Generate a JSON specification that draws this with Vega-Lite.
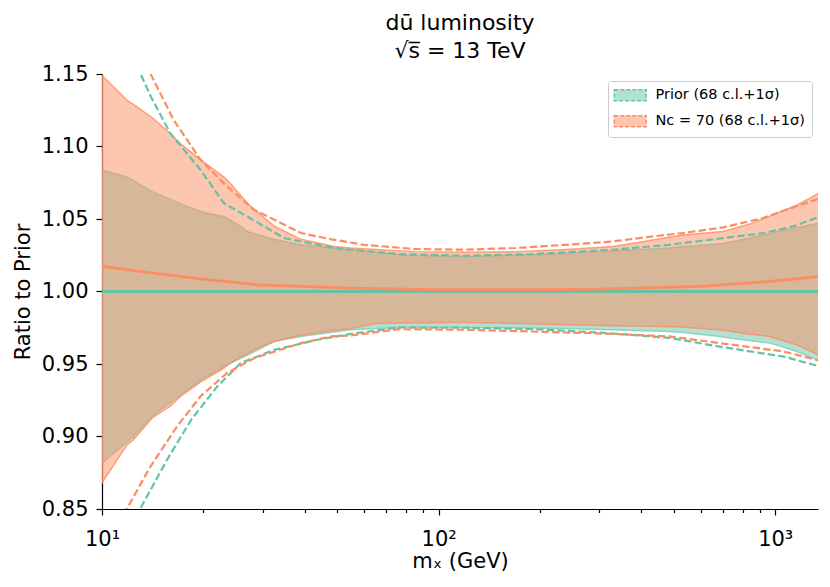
{
  "$schema": "https://vega.github.io/schema/vega-lite/v6.json",
  "width": 716,
  "height": 435,
  "autosize": {"type": "none"},
  "padding": {"left": 102, "top": 74, "right": 12, "bottom": 78},
  "background": "white",
  "title": {
    "text": ["d\u016b luminosity", "\u221as\u0305 = 13 TeV"],
    "font": "DejaVu Sans",
    "fontSize": 22,
    "fontWeight": "normal",
    "color": "black",
    "anchor": "middle",
    "lineHeight": 28,
    "offset": 0
  },
  "config": {
    "view": {"stroke": null},
    "axis": {
      "domainColor": "black",
      "domainWidth": 1.2,
      "tickColor": "black",
      "tickWidth": 1.2,
      "tickSize": 6,
      "labelColor": "black",
      "titleColor": "black",
      "labelFont": "DejaVu Sans",
      "titleFont": "DejaVu Sans",
      "labelFontSize": 21,
      "titleFontSize": 21,
      "titleFontWeight": "normal",
      "grid": false,
      "labelPadding": 5,
      "zindex": 1
    },
    "legend": {
      "title": null,
      "orient": "none",
      "legendX": 506,
      "legendY": 7,
      "symbolType": "M-2.9,-1H2.9V1H-2.9Z",
      "symbolSize": 121,
      "symbolStrokeWidth": 1.5,
      "symbolDash": [4, 2],
      "symbolOffset": 8,
      "labelFont": "DejaVu Sans",
      "labelFontSize": 14.5,
      "labelColor": "black",
      "labelOffset": 18,
      "padding": 7,
      "rowPadding": 8,
      "strokeColor": "#cccccc",
      "fillColor": "white",
      "cornerRadius": 3,
      "zindex": 2
    }
  },
  "datasets": {
    "bands": [
      {"set": "Prior (68 c.l.+1\u03c3)", "x": 10, "lo": 0.8816, "hi": 1.084},
      {"set": "Prior (68 c.l.+1\u03c3)", "x": 11.85, "lo": 0.896, "hi": 1.079},
      {"set": "Prior (68 c.l.+1\u03c3)", "x": 12.4, "lo": 0.9, "hi": 1.0765},
      {"set": "Prior (68 c.l.+1\u03c3)", "x": 14.07, "lo": 0.9138, "hi": 1.069},
      {"set": "Prior (68 c.l.+1\u03c3)", "x": 17.9, "lo": 0.932, "hi": 1.0587},
      {"set": "Prior (68 c.l.+1\u03c3)", "x": 20.1, "lo": 0.9402, "hi": 1.0545},
      {"set": "Prior (68 c.l.+1\u03c3)", "x": 23, "lo": 0.948, "hi": 1.0517},
      {"set": "Prior (68 c.l.+1\u03c3)", "x": 25.9, "lo": 0.954, "hi": 1.045},
      {"set": "Prior (68 c.l.+1\u03c3)", "x": 27, "lo": 0.956, "hi": 1.0414},
      {"set": "Prior (68 c.l.+1\u03c3)", "x": 32.5, "lo": 0.9655, "hi": 1.036},
      {"set": "Prior (68 c.l.+1\u03c3)", "x": 39, "lo": 0.969, "hi": 1.0322},
      {"set": "Prior (68 c.l.+1\u03c3)", "x": 55, "lo": 0.9736, "hi": 1.0288},
      {"set": "Prior (68 c.l.+1\u03c3)", "x": 80, "lo": 0.9754, "hi": 1.025},
      {"set": "Prior (68 c.l.+1\u03c3)", "x": 120, "lo": 0.9752, "hi": 1.0242},
      {"set": "Prior (68 c.l.+1\u03c3)", "x": 200, "lo": 0.9747, "hi": 1.0255},
      {"set": "Prior (68 c.l.+1\u03c3)", "x": 300, "lo": 0.9738, "hi": 1.0276},
      {"set": "Prior (68 c.l.+1\u03c3)", "x": 485, "lo": 0.9724, "hi": 1.03},
      {"set": "Prior (68 c.l.+1\u03c3)", "x": 531, "lo": 0.9718, "hi": 1.031},
      {"set": "Prior (68 c.l.+1\u03c3)", "x": 684, "lo": 0.969, "hi": 1.033},
      {"set": "Prior (68 c.l.+1\u03c3)", "x": 750, "lo": 0.9675, "hi": 1.0345},
      {"set": "Prior (68 c.l.+1\u03c3)", "x": 964, "lo": 0.9644, "hi": 1.04},
      {"set": "Prior (68 c.l.+1\u03c3)", "x": 1009, "lo": 0.963, "hi": 1.0414},
      {"set": "Prior (68 c.l.+1\u03c3)", "x": 1158, "lo": 0.9586, "hi": 1.044},
      {"set": "Prior (68 c.l.+1\u03c3)", "x": 1370, "lo": 0.9517, "hi": 1.0475},
      {"set": "Nc = 70 (68 c.l.+1\u03c3)", "x": 10, "lo": 0.868, "hi": 1.149},
      {"set": "Nc = 70 (68 c.l.+1\u03c3)", "x": 11.85, "lo": 0.894, "hi": 1.132},
      {"set": "Nc = 70 (68 c.l.+1\u03c3)", "x": 12.4, "lo": 0.8977, "hi": 1.129},
      {"set": "Nc = 70 (68 c.l.+1\u03c3)", "x": 14.07, "lo": 0.9126, "hi": 1.12},
      {"set": "Nc = 70 (68 c.l.+1\u03c3)", "x": 15.96, "lo": 0.921, "hi": 1.109},
      {"set": "Nc = 70 (68 c.l.+1\u03c3)", "x": 17.1, "lo": 0.9276, "hi": 1.102},
      {"set": "Nc = 70 (68 c.l.+1\u03c3)", "x": 19.6, "lo": 0.9375, "hi": 1.091},
      {"set": "Nc = 70 (68 c.l.+1\u03c3)", "x": 20.1, "lo": 0.939, "hi": 1.089},
      {"set": "Nc = 70 (68 c.l.+1\u03c3)", "x": 23, "lo": 0.947, "hi": 1.079},
      {"set": "Nc = 70 (68 c.l.+1\u03c3)", "x": 24.1, "lo": 0.951, "hi": 1.0745},
      {"set": "Nc = 70 (68 c.l.+1\u03c3)", "x": 27, "lo": 0.957, "hi": 1.061},
      {"set": "Nc = 70 (68 c.l.+1\u03c3)", "x": 29.6, "lo": 0.962, "hi": 1.053},
      {"set": "Nc = 70 (68 c.l.+1\u03c3)", "x": 32.5, "lo": 0.9655, "hi": 1.045},
      {"set": "Nc = 70 (68 c.l.+1\u03c3)", "x": 39, "lo": 0.97, "hi": 1.036},
      {"set": "Nc = 70 (68 c.l.+1\u03c3)", "x": 49, "lo": 0.9732, "hi": 1.031},
      {"set": "Nc = 70 (68 c.l.+1\u03c3)", "x": 55, "lo": 0.9745, "hi": 1.03},
      {"set": "Nc = 70 (68 c.l.+1\u03c3)", "x": 65, "lo": 0.978, "hi": 1.029},
      {"set": "Nc = 70 (68 c.l.+1\u03c3)", "x": 85, "lo": 0.9785, "hi": 1.0275},
      {"set": "Nc = 70 (68 c.l.+1\u03c3)", "x": 120, "lo": 0.9786, "hi": 1.027},
      {"set": "Nc = 70 (68 c.l.+1\u03c3)", "x": 170, "lo": 0.978, "hi": 1.0275},
      {"set": "Nc = 70 (68 c.l.+1\u03c3)", "x": 240, "lo": 0.977, "hi": 1.029},
      {"set": "Nc = 70 (68 c.l.+1\u03c3)", "x": 330, "lo": 0.9763, "hi": 1.031},
      {"set": "Nc = 70 (68 c.l.+1\u03c3)", "x": 420, "lo": 0.976, "hi": 1.035},
      {"set": "Nc = 70 (68 c.l.+1\u03c3)", "x": 531, "lo": 0.9755, "hi": 1.039},
      {"set": "Nc = 70 (68 c.l.+1\u03c3)", "x": 700, "lo": 0.9733, "hi": 1.0414},
      {"set": "Nc = 70 (68 c.l.+1\u03c3)", "x": 840, "lo": 0.9705, "hi": 1.0465},
      {"set": "Nc = 70 (68 c.l.+1\u03c3)", "x": 964, "lo": 0.969, "hi": 1.052},
      {"set": "Nc = 70 (68 c.l.+1\u03c3)", "x": 1057, "lo": 0.966, "hi": 1.0557},
      {"set": "Nc = 70 (68 c.l.+1\u03c3)", "x": 1158, "lo": 0.9632, "hi": 1.0595},
      {"set": "Nc = 70 (68 c.l.+1\u03c3)", "x": 1298, "lo": 0.958, "hi": 1.0656},
      {"set": "Nc = 70 (68 c.l.+1\u03c3)", "x": 1370, "lo": 0.955, "hi": 1.069}
    ],
    "lines": [
      {"set": "prior", "curve": "upper 1sigma", "x": 10, "y": 1.225},
      {"set": "prior", "curve": "upper 1sigma", "x": 11.5, "y": 1.18},
      {"set": "prior", "curve": "upper 1sigma", "x": 12.98, "y": 1.1507},
      {"set": "prior", "curve": "upper 1sigma", "x": 14, "y": 1.134},
      {"set": "prior", "curve": "upper 1sigma", "x": 15.96, "y": 1.109},
      {"set": "prior", "curve": "upper 1sigma", "x": 19.6, "y": 1.084},
      {"set": "prior", "curve": "upper 1sigma", "x": 23, "y": 1.061},
      {"set": "prior", "curve": "upper 1sigma", "x": 27, "y": 1.0517},
      {"set": "prior", "curve": "upper 1sigma", "x": 34.8, "y": 1.0368},
      {"set": "prior", "curve": "upper 1sigma", "x": 49, "y": 1.03},
      {"set": "prior", "curve": "upper 1sigma", "x": 55, "y": 1.0288},
      {"set": "prior", "curve": "upper 1sigma", "x": 76, "y": 1.0258},
      {"set": "prior", "curve": "upper 1sigma", "x": 120, "y": 1.0246},
      {"set": "prior", "curve": "upper 1sigma", "x": 190, "y": 1.0258},
      {"set": "prior", "curve": "upper 1sigma", "x": 328, "y": 1.0288},
      {"set": "prior", "curve": "upper 1sigma", "x": 485, "y": 1.0322},
      {"set": "prior", "curve": "upper 1sigma", "x": 531, "y": 1.0334},
      {"set": "prior", "curve": "upper 1sigma", "x": 700, "y": 1.0368},
      {"set": "prior", "curve": "upper 1sigma", "x": 920, "y": 1.0403},
      {"set": "prior", "curve": "upper 1sigma", "x": 1132, "y": 1.0449},
      {"set": "prior", "curve": "upper 1sigma", "x": 1370, "y": 1.052},
      {"set": "prior", "curve": "lower 1sigma", "x": 10, "y": 0.775},
      {"set": "prior", "curve": "lower 1sigma", "x": 11.5, "y": 0.815},
      {"set": "prior", "curve": "lower 1sigma", "x": 12.98, "y": 0.85},
      {"set": "prior", "curve": "lower 1sigma", "x": 15.6, "y": 0.8839},
      {"set": "prior", "curve": "lower 1sigma", "x": 18.4, "y": 0.9115},
      {"set": "prior", "curve": "lower 1sigma", "x": 22, "y": 0.9345},
      {"set": "prior", "curve": "lower 1sigma", "x": 25.8, "y": 0.9506},
      {"set": "prior", "curve": "lower 1sigma", "x": 32.5, "y": 0.9598},
      {"set": "prior", "curve": "lower 1sigma", "x": 43.7, "y": 0.9667},
      {"set": "prior", "curve": "lower 1sigma", "x": 55, "y": 0.9708},
      {"set": "prior", "curve": "lower 1sigma", "x": 76, "y": 0.9752},
      {"set": "prior", "curve": "lower 1sigma", "x": 120, "y": 0.975},
      {"set": "prior", "curve": "lower 1sigma", "x": 190, "y": 0.9741},
      {"set": "prior", "curve": "lower 1sigma", "x": 310, "y": 0.9715},
      {"set": "prior", "curve": "lower 1sigma", "x": 485, "y": 0.968},
      {"set": "prior", "curve": "lower 1sigma", "x": 684, "y": 0.962},
      {"set": "prior", "curve": "lower 1sigma", "x": 1060, "y": 0.9551},
      {"set": "prior", "curve": "lower 1sigma", "x": 1370, "y": 0.948},
      {"set": "prior", "curve": "central", "x": 10, "y": 1.0},
      {"set": "prior", "curve": "central", "x": 1370, "y": 1.0},
      {"set": "nc", "curve": "upper 1sigma", "x": 10, "y": 1.27},
      {"set": "nc", "curve": "upper 1sigma", "x": 12, "y": 1.2},
      {"set": "nc", "curve": "upper 1sigma", "x": 13.9, "y": 1.1507},
      {"set": "nc", "curve": "upper 1sigma", "x": 16.3, "y": 1.1185},
      {"set": "nc", "curve": "upper 1sigma", "x": 19.6, "y": 1.091},
      {"set": "nc", "curve": "upper 1sigma", "x": 23.5, "y": 1.0725},
      {"set": "nc", "curve": "upper 1sigma", "x": 28.3, "y": 1.0564},
      {"set": "nc", "curve": "upper 1sigma", "x": 39, "y": 1.0403},
      {"set": "nc", "curve": "upper 1sigma", "x": 48, "y": 1.036},
      {"set": "nc", "curve": "upper 1sigma", "x": 60, "y": 1.0322},
      {"set": "nc", "curve": "upper 1sigma", "x": 85, "y": 1.0293},
      {"set": "nc", "curve": "upper 1sigma", "x": 120, "y": 1.0288},
      {"set": "nc", "curve": "upper 1sigma", "x": 169, "y": 1.03},
      {"set": "nc", "curve": "upper 1sigma", "x": 238, "y": 1.0322},
      {"set": "nc", "curve": "upper 1sigma", "x": 328, "y": 1.0345},
      {"set": "nc", "curve": "upper 1sigma", "x": 433, "y": 1.038},
      {"set": "nc", "curve": "upper 1sigma", "x": 531, "y": 1.0403},
      {"set": "nc", "curve": "upper 1sigma", "x": 700, "y": 1.0442},
      {"set": "nc", "curve": "upper 1sigma", "x": 920, "y": 1.0506},
      {"set": "nc", "curve": "upper 1sigma", "x": 1057, "y": 1.0557},
      {"set": "nc", "curve": "upper 1sigma", "x": 1270, "y": 1.062},
      {"set": "nc", "curve": "upper 1sigma", "x": 1370, "y": 1.0645},
      {"set": "nc", "curve": "lower 1sigma", "x": 10, "y": 0.805},
      {"set": "nc", "curve": "lower 1sigma", "x": 11.85, "y": 0.85},
      {"set": "nc", "curve": "lower 1sigma", "x": 13.9, "y": 0.879},
      {"set": "nc", "curve": "lower 1sigma", "x": 16.7, "y": 0.9069},
      {"set": "nc", "curve": "lower 1sigma", "x": 19.6, "y": 0.9276},
      {"set": "nc", "curve": "lower 1sigma", "x": 23.5, "y": 0.9437},
      {"set": "nc", "curve": "lower 1sigma", "x": 28.3, "y": 0.954},
      {"set": "nc", "curve": "lower 1sigma", "x": 39, "y": 0.9644},
      {"set": "nc", "curve": "lower 1sigma", "x": 48, "y": 0.969},
      {"set": "nc", "curve": "lower 1sigma", "x": 55, "y": 0.9697},
      {"set": "nc", "curve": "lower 1sigma", "x": 76, "y": 0.974},
      {"set": "nc", "curve": "lower 1sigma", "x": 120, "y": 0.9736},
      {"set": "nc", "curve": "lower 1sigma", "x": 190, "y": 0.9724},
      {"set": "nc", "curve": "lower 1sigma", "x": 328, "y": 0.9708},
      {"set": "nc", "curve": "lower 1sigma", "x": 485, "y": 0.969},
      {"set": "nc", "curve": "lower 1sigma", "x": 684, "y": 0.9644},
      {"set": "nc", "curve": "lower 1sigma", "x": 1060, "y": 0.9586},
      {"set": "nc", "curve": "lower 1sigma", "x": 1370, "y": 0.952},
      {"set": "nc", "curve": "central", "x": 10, "y": 1.0173},
      {"set": "nc", "curve": "central", "x": 15, "y": 1.012},
      {"set": "nc", "curve": "central", "x": 20, "y": 1.0086},
      {"set": "nc", "curve": "central", "x": 29, "y": 1.0046},
      {"set": "nc", "curve": "central", "x": 55, "y": 1.0023},
      {"set": "nc", "curve": "central", "x": 100, "y": 1.0012},
      {"set": "nc", "curve": "central", "x": 200, "y": 1.0012},
      {"set": "nc", "curve": "central", "x": 300, "y": 1.0017},
      {"set": "nc", "curve": "central", "x": 600, "y": 1.0035},
      {"set": "nc", "curve": "central", "x": 960, "y": 1.0069},
      {"set": "nc", "curve": "central", "x": 1370, "y": 1.0105}
    ]
  },
  "encoding": {
    "x": {
      "field": "x",
      "type": "quantitative",
      "scale": {"type": "log", "domain": [10, 1340], "nice": false},
      "axis": {
        "title": "m\u2093 (GeV)",
        "values": [10, 20, 30, 40, 50, 60, 70, 80, 90, 100, 200, 300, 400, 500, 600, 700, 800, 900, 1000],
        "labelExpr": "datum.value == 10 ? '10\u00b9' : datum.value == 100 ? '10\u00b2' : datum.value == 1000 ? '10\u00b3' : ''",
        "labelOverlap": false,
        "labelFlush": false,
        "labelPadding": 13,
        "tickSize": {"condition": {"test": "datum.value == 10 || datum.value == 100 || datum.value == 1000", "value": 6}, "value": 3.5},
        "titlePadding": 1
      }
    }
  },
  "layer": [
    {
      "data": {"name": "bands"},
      "transform": [{"filter": "datum.set == 'Prior (68 c.l.+1\u03c3)'"}],
      "mark": {"type": "area", "strokeOpacity": 0.6, "strokeWidth": 1.5, "clip": true},
      "encoding": {
        "y": {
          "field": "lo",
          "type": "quantitative",
          "scale": {"domain": [0.85, 1.15], "nice": false, "zero": false},
          "axis": {
            "title": "Ratio to Prior",
            "values": [0.85, 0.9, 0.95, 1.0, 1.05, 1.1, 1.15],
            "format": ".2f",
            "labelPadding": 8,
            "titlePadding": 8
          }
        },
        "y2": {"field": "hi"},
        "fill": {
          "field": "set",
          "type": "nominal",
          "scale": {"domain": ["Prior (68 c.l.+1\u03c3)", "Nc = 70 (68 c.l.+1\u03c3)"], "range": ["rgba(102,194,165,0.5)", "rgba(252,141,98,0.5)"]}
        },
        "stroke": {
          "field": "set",
          "type": "nominal",
          "scale": {"domain": ["Prior (68 c.l.+1\u03c3)", "Nc = 70 (68 c.l.+1\u03c3)"], "range": ["#66c2a5", "#fc8d62"]}
        }
      }
    },
    {
      "data": {"name": "bands"},
      "transform": [{"filter": "datum.set == 'Nc = 70 (68 c.l.+1\u03c3)'"}],
      "mark": {"type": "area", "strokeOpacity": 0.8, "strokeWidth": 1.5, "clip": true},
      "encoding": {
        "y": {"field": "lo", "type": "quantitative"},
        "y2": {"field": "hi"},
        "fill": {"field": "set", "type": "nominal"},
        "stroke": {"field": "set", "type": "nominal"}
      }
    },
    {
      "data": {"name": "lines"},
      "transform": [{"filter": "datum.curve != 'central'"}],
      "mark": {"type": "line", "strokeWidth": 2.2, "strokeDash": [7.4, 3.2], "clip": true},
      "encoding": {
        "y": {"field": "y", "type": "quantitative"},
        "color": {
          "field": "set",
          "type": "nominal",
          "scale": {"domain": ["prior", "nc"], "range": ["#66c2a5", "#fc8d62"]},
          "legend": null
        },
        "detail": {"field": "curve"}
      }
    },
    {
      "data": {"name": "lines"},
      "transform": [{"filter": "datum.curve == 'central'"}],
      "mark": {"type": "line", "strokeWidth": 2.8, "clip": true},
      "encoding": {
        "y": {"field": "y", "type": "quantitative"},
        "color": {"field": "set", "type": "nominal", "legend": null}
      }
    }
  ]
}
